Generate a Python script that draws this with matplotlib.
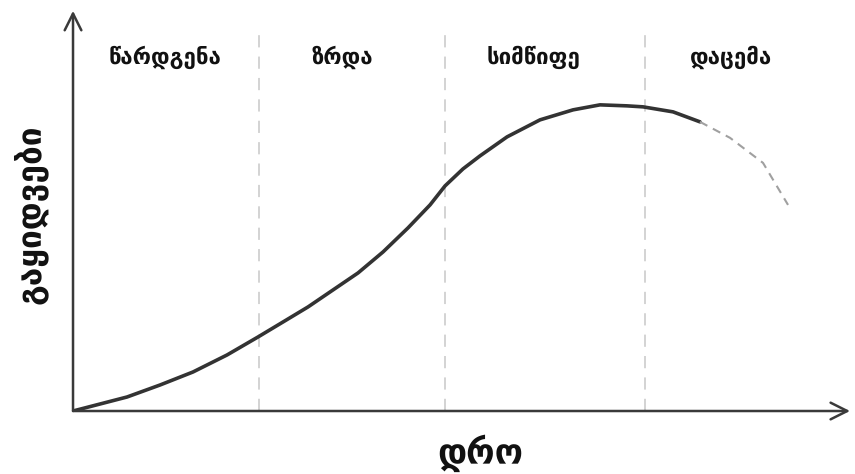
import matplotlib.pyplot as plt

# product life cycle (time 0-100, sales 0-100)
time = [0, 6.95, 11.2, 15.44, 19.82, 23.81, 27.03, 30.24, 33.46, 36.68, 39.9,
        43.11, 45.95, 47.88, 50.19, 52.38, 55.86, 60.1, 64.35, 67.82, 71.3,
        73.36, 77.22, 80.69]
sales = [0, 3.5, 6.5, 9.75, 14, 18.5, 22.25, 26, 30.25, 34.5, 39.75,
         45.75, 51.5, 56.25, 60.5, 63.75, 68.5, 72.75, 75.25, 76.5, 76.25,
         76, 74.75, 72.25]
# faded end of the curve
tail_time = [80.69, 84.56, 88.8, 92.02]
tail_sales = [72.25, 68.25, 62, 51.5]

stages = ["წარდგენა", "ზრდა", "სიმწიფე", "დაცემა"]
stage_pos = [11.8, 34.6, 59.3, 84.7]
borders = [23.9, 47.9, 73.6]

fig = plt.figure(figsize=(8.55, 4.74), dpi=100)
ax = fig.add_axes([0.0854, 0.1329, 0.9088, 0.8443])
ax.set_xlim(0, 100)
ax.set_ylim(0, 100)
for s in ax.spines.values():
    s.set_visible(False)
ax.set_xticks([])
ax.set_yticks([])

# axes with open arrow heads
arrow = dict(arrowstyle="->,head_length=1.2,head_width=0.6", color="#3a3a3a",
             lw=1.8, shrinkA=0, shrinkB=0)
ax.annotate("", xy=(100, 0), xytext=(0, 0), arrowprops=arrow, annotation_clip=False)
ax.annotate("", xy=(0, 100), xytext=(0, 0), arrowprops=arrow, annotation_clip=False)

for b in borders:
    ax.plot([b, b], [0, 95], color="#c8c8c8", lw=1.1, linestyle=(0, (8, 6)))

ax.plot(time, sales, color="#333333", lw=2.6, solid_capstyle="round",
        solid_joinstyle="round")
ax.plot(tail_time, tail_sales, color="#a0a0a0", lw=1.5, linestyle=(0, (4, 3)))

for name, x in zip(stages, stage_pos):
    ax.text(x, 88.3, name, ha="center", va="center", fontsize=16,
            fontweight="bold", color="#111111")

fig.text(30 / 855, 1 - 214 / 474, "გაყიდვები", rotation=90, ha="center",
         va="center", fontsize=24, fontweight="bold", color="#111111")
fig.text(480 / 855, 1 - 453 / 474, "დრო", ha="center", va="center",
         fontsize=25, fontweight="bold", color="#111111")

fig.savefig("out.png", dpi=100, facecolor="white")
